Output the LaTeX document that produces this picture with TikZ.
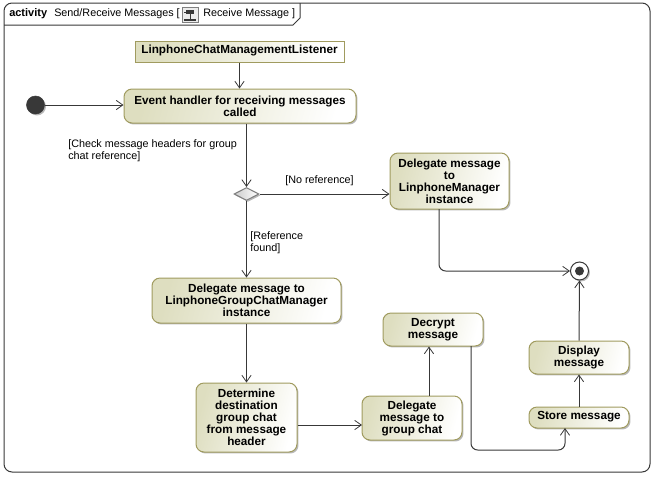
\documentclass[tikz,border=0pt]{standalone}
\usepackage{fontspec}
\setmainfont{Liberation Sans}
\usetikzlibrary{arrows.meta}
\usetikzlibrary{shadows}
\usetikzlibrary{shapes.geometric}

\definecolor{boxedge}{RGB}{160,155,95}
\definecolor{boxfill}{RGB}{222,222,192}
\definecolor{lineink}{RGB}{56,56,56}

\tikzset{
	wh/.style 2 args={minimum width=#1*0.75pt, minimum height=#2*0.75pt},
	soft shadow/.style={drop shadow={shadow xshift=1.1pt, shadow yshift=-1.1pt, fill=black, opacity=0.28}},
	shaded box/.style={draw=boxedge, line width=0.75pt, left color=boxfill, right color=white,
		shading angle=75, inner sep=0pt, align=center,
		font=\fontsize{8.8}{9}\selectfont\bfseries, soft shadow},
	action/.style={shaded box, rounded corners=6pt},
	plain text/.style={inner sep=0pt, align=left, font=\fontsize{8.1}{9}\selectfont, text=black},
	flow/.style={draw=lineink, line width=0.75pt, rounded corners=5pt,
		-{Straight Barb[length=5pt, width=7pt, line width=0.6pt]}}
}

\begin{document}
\begin{tikzpicture}[x=0.75pt, y=-0.75pt]
		\useasboundingbox (0,0) rectangle (654,476);
		% frame and its tab
		\draw [lineink, line width=0.75pt, rounded corners=6pt]
			(4,3) rectangle (650,472);
		\draw [lineink, line width=0.75pt]
			(4,25) -- (293,25) -- (300,18) -- (300,3);
		\node [plain text, anchor=west] (kind) at (9,13.5)
			{\fontsize{8.25}{9}\selectfont\bfseries activity};
		\node [plain text, anchor=west] (title) at (54,13.5) {Send/Receive Messages [};
		\node [draw=gray, fill=gray!15, wh={16}{15}, inner sep=0pt] (icon) at (190,14.5) {};
		\draw [lineink, line width=1pt] (184,20) -- (196,20);
		\draw [lineink, line width=0.75pt] (190,20) -- (190,12) -- (184,12);
		\fill [lineink] (186,10) rectangle (194,14);
		\node [plain text, anchor=west] (diagram) at (203,13.5) {Receive Message ]};

		\node [shaded box, wh={209}{21}, text depth=3pt] (listener) at (239.5,51.5)
			{LinphoneChatManagementListener};
		\node [action, wh={232}{34}] (handler) at (240,106)
			{Event handler for receiving messages\\called};
		\node [circle, fill=lineink, draw=lineink, wh={18}{18}, inner sep=0pt, soft shadow]
			(start) at (35.5,105) {};
		\node [diamond, draw=gray, left color=gray!40, right color=white, line width=0.8pt,
			wh={25}{13}, inner sep=0pt, aspect=2, soft shadow] (decision) at (246.5,194) {};
		\node [action, wh={119}{56}] (manager) at (449.5,181)
			{Delegate message\\to\\LinphoneManager\\instance};
		\node [action, wh={189}{45}] (groupmanager) at (246.5,300.5)
			{Delegate message to\\LinphoneGroupChatManager\\instance};
		\node [action, wh={101}{69}] (determine) at (246.5,417.5)
			{Determine\\destination\\group chat\\from message\\header};
		\node [action, wh={100}{44}] (groupchat) at (412,418)
			{Delegate\\message to\\group chat};
		\node [action, wh={100}{33}] (decrypt) at (433,329.5) {Decrypt\\message};
		\node [action, wh={100}{33}] (display) at (579,357.5) {Display\\message};
		\node [action, wh={100}{21}, text depth=3pt] (store) at (579,417.5) {Store message};
		\node [circle, draw=lineink, fill=white, line width=0.75pt, wh={18}{18}, inner sep=0pt,
			soft shadow] (final) at (579.5,271) {};
		\node [circle, fill=lineink, wh={9}{9}, inner sep=0pt] (finaldot) at (final) {};

		\node [plain text, anchor=north west] (checklabel) at (68,139.5)
			{[Check message headers for group\\chat reference]};
		\node [plain text, anchor=west] (nolabel) at (285,180.5) {[No reference]};
		\node [plain text, anchor=north west] (foundlabel) at (250,231)
			{[Reference\\found]};

		\coordinate (chatin) at (362,425);
		\coordinate (chatout) at (429,396);
		\coordinate (decryptout) at (471,346);
		\coordinate (storein) at (565,428);
		\coordinate (managerout) at (439,209);
		\path
			(listener.south) edge [flow] (listener.south |- handler.north)
			(start) edge [flow] (start -| handler.west)
			(decision |- handler.south) edge [flow] (decision.north)
			(decision) edge [flow] (decision -| manager.west)
			(decision) edge [flow] (groupmanager.north)
			(groupmanager.south) edge [flow] (determine.north)
			(determine.east |- chatin) edge [flow] (chatin)
			(chatout) edge [flow] (chatout |- decrypt.south)
			(store.north) edge [flow] (display.south)
			(display.north) edge [flow] (final.south);
		\draw [flow] (decryptout) -- (471,450) -- (565,450) -- (storein);
		\draw [flow] (managerout) -- (439,271) -- (final.west);
	\end{tikzpicture}
\end{document}
